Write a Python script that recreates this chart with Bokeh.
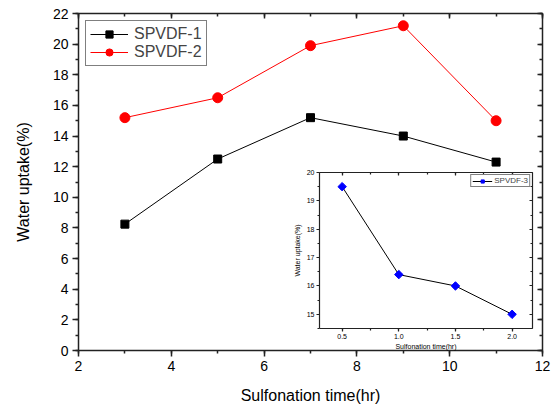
from bokeh.plotting import figure
from bokeh.models import (Range1d, SingleIntervalTicker, LinearAxis, CustomJSTickFormatter,
                          NumeralTickFormatter)
from bokeh.embed import file_html
from bokeh.resources import INLINE

# ---- data ----
time_hr = [3, 5, 7, 9, 11]
spvdf1 = [8.25, 12.5, 15.2, 14.0, 12.3]
spvdf2 = [15.2, 16.5, 19.9, 21.2, 15.0]

inset_time = [0.5, 1.0, 1.5, 2.0]
spvdf3 = [19.5, 16.4, 16.0, 15.0]

FONT = "Liberation Sans"
AX = "#222222"

# ---- main figure ----
p = figure(width=552, height=406, output_backend="svg", toolbar_location=None,
           x_range=Range1d(2, 12), y_range=Range1d(0, 22),
           min_border_left=78, min_border_right=10, min_border_top=13, min_border_bottom=53)
p.grid.visible = False
p.outline_line_color = None

p.line(time_hr, spvdf1, color="black", line_width=1, legend_label="SPVDF-1")
p.scatter(time_hr, spvdf1, marker="square", size=8, color="black", legend_label="SPVDF-1")
p.line(time_hr, spvdf2, color="#ff0000", line_width=1, legend_label="SPVDF-2")
p.scatter(time_hr, spvdf2, marker="circle", size=10, color="#ff0000", legend_label="SPVDF-2")

def style_axis(ax, fs, title_fs, tick_out, minor_out, standoff, title_standoff, width):
    ax.axis_line_color = AX
    ax.axis_line_width = width
    ax.major_tick_line_color = AX
    ax.minor_tick_line_color = AX
    ax.major_tick_line_width = width
    ax.minor_tick_line_width = width
    ax.major_tick_out = tick_out
    ax.major_tick_in = 0
    ax.minor_tick_out = minor_out
    ax.minor_tick_in = 0
    ax.major_label_text_font = FONT
    ax.major_label_text_font_size = fs
    ax.major_label_text_color = "black"
    ax.major_label_standoff = standoff
    ax.axis_label_text_font = FONT
    ax.axis_label_text_font_size = title_fs
    ax.axis_label_text_font_style = "normal"
    ax.axis_label_text_color = "black"
    ax.axis_label_standoff = title_standoff

p.xaxis.ticker = SingleIntervalTicker(interval=2, num_minor_ticks=2)
p.yaxis.ticker = SingleIntervalTicker(interval=2, num_minor_ticks=2)
p.xaxis.axis_label = "Sulfonation time(hr)"
p.yaxis.axis_label = "Water uptake(%)"
style_axis(p.xaxis[0], "14px", "16px", 6, 3, 4, 13, 1.5)
style_axis(p.yaxis[0], "14px", "16px", 6, 3, 4, 18, 1.5)

blank = "return ''"
for side in ("above", "right"):
    ax = LinearAxis(ticker=SingleIntervalTicker(interval=2, num_minor_ticks=2),
                    formatter=CustomJSTickFormatter(code=blank))
    style_axis(ax, "0px", "0px", 0, 0, 0, 0, 1.5)
    ax.major_tick_in = 5
    ax.minor_tick_in = 3
    p.add_layout(ax, side)

leg = p.legend[0]
leg.location = "top_left"
leg.margin = 7
leg.padding = 4
leg.spacing = 0
leg.label_text_font = FONT
leg.label_text_font_size = "16px"
leg.label_height = 18
leg.glyph_height = 18
leg.glyph_width = 38
leg.label_standoff = 6
leg.border_line_color = "black"
leg.border_line_width = 1
leg.background_fill_alpha = 1

# ---- inset figure ----
ins = figure(width=251, height=186, output_backend="svg", toolbar_location=None,
             x_range=Range1d(0.3, 2.18), y_range=Range1d(14.5, 20),
             min_border_left=32, min_border_right=6, min_border_top=4, min_border_bottom=26)
ins.grid.visible = False
ins.outline_line_color = None
ins.background_fill_alpha = 0
ins.border_fill_alpha = 0

ins.line(inset_time, spvdf3, color="black", line_width=1, legend_label="SPVDF-3")
ins.scatter(inset_time, spvdf3, marker="square", angle=0.785398, size=6, color="#0000ff",
            legend_label="SPVDF-3")

ins.xaxis.ticker = SingleIntervalTicker(interval=0.5, num_minor_ticks=2)
ins.xaxis.formatter = NumeralTickFormatter(format="0.0")
ins.yaxis.ticker = SingleIntervalTicker(interval=1, num_minor_ticks=2)
ins.xaxis.axis_label = "Sulfonation time(hr)"
ins.yaxis.axis_label = "Water uptake(%)"
style_axis(ins.xaxis[0], "7px", "7px", 3, 2, 2, 1, 1.2)
style_axis(ins.yaxis[0], "7px", "7px", 3, 2, 2, 3, 1.2)
for side, iv in (("above", 0.5), ("right", 1)):
    ax = LinearAxis(ticker=SingleIntervalTicker(interval=iv, num_minor_ticks=2),
                    formatter=CustomJSTickFormatter(code=blank))
    style_axis(ax, "0px", "0px", 0, 0, 0, 0, 1.2)
    ax.major_tick_in = 3
    ax.minor_tick_in = 2
    ins.add_layout(ax, side)

il = ins.legend[0]
il.location = "top_right"
il.margin = 2
il.padding = 1
il.spacing = 0
il.label_text_font = FONT
il.label_text_font_size = "8px"
il.label_height = 8
il.glyph_height = 8
il.glyph_width = 20
il.label_standoff = 2
il.border_line_color = "black"
il.border_line_width = 1

ins.styles = {"position": "absolute", "left": "287px", "top": "168px"}

open("out.html", "w").write(file_html([p, ins], INLINE))
